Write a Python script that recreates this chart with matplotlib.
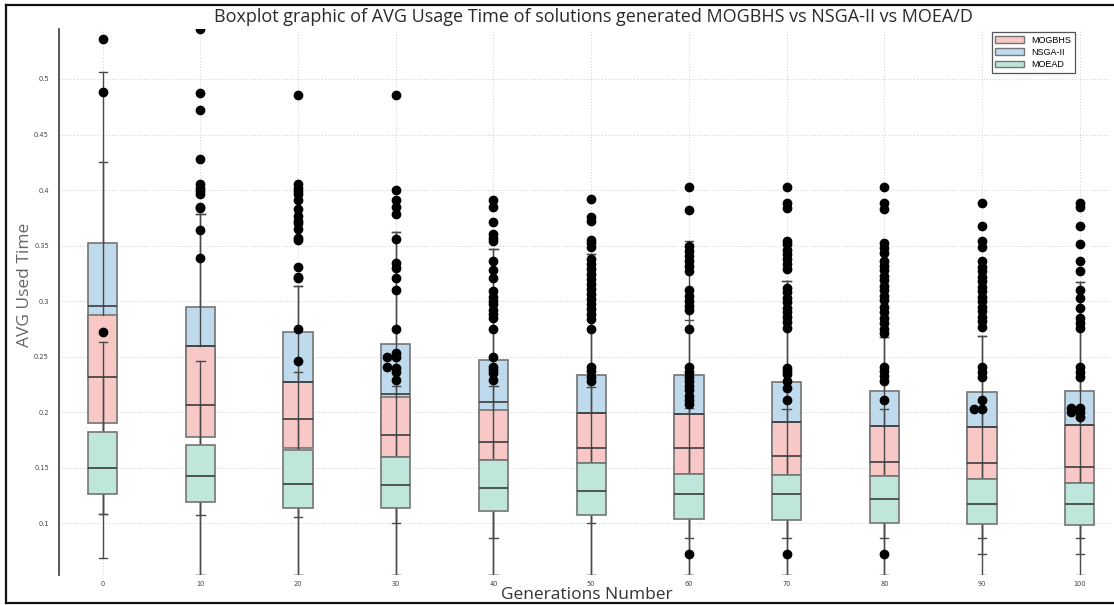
import numpy as np
import matplotlib.pyplot as plt
from matplotlib.lines import Line2D

# Data #######################################################################
gens = [0, 10, 20, 30, 40, 50, 60, 70, 80, 90, 100]

# NSGA-II (blue) - lower quartile is hidden under the MOGBHS box
nsga_q1 = [0.232, 0.2063, 0.194, 0.1798, 0.1735, 0.1675, 0.1675, 0.1606, 0.1555, 0.154, 0.151]
nsga_med = [0.296, 0.26, 0.2276, 0.2162, 0.209, 0.1995, 0.1985, 0.1915, 0.1877, 0.1865, 0.1883]
nsga_q3 = [0.352, 0.2946, 0.2726, 0.2618, 0.2471, 0.2333, 0.2336, 0.227, 0.2195, 0.2183, 0.2195]
nsga_lo = [0.108, 0.0534, 0.0534, 0.0534, 0.0534, 0.0534, 0.0534, 0.0534, 0.0534, 0.0534, 0.0534]
nsga_hi = [0.506, 0.3784, 0.3132, 0.3618, 0.3468, 0.342, 0.3537, 0.3177, 0.2676, 0.2687, 0.3168]

# MOGBHS (pink)
mogbhs_q1 = [0.190, 0.178, 0.1675, 0.1594, 0.157, 0.154, 0.1444, 0.1435, 0.1429, 0.1399, 0.1366]
mogbhs_med = [0.232, 0.2063, 0.194, 0.1798, 0.1735, 0.1675, 0.1675, 0.1606, 0.1555, 0.154, 0.151]
mogbhs_q3 = [0.2874, 0.26, 0.2276, 0.2141, 0.202, 0.1991, 0.1982, 0.1915, 0.1877, 0.1865, 0.1883]
mogbhs_lo = [0.108, 0.0534, 0.0534, 0.0534, 0.0534, 0.0534, 0.0534, 0.0534, 0.0534, 0.0721, 0.0721]
mogbhs_hi = [0.425, 0.3784, 0.3132, 0.3618, 0.3468, 0.342, 0.2832, 0.3177, 0.2676, 0.2687, 0.3168]

# MOEAD (green)
moead_q1 = [0.126, 0.1189, 0.114, 0.114, 0.1111, 0.1075, 0.1039, 0.103, 0.1006, 0.0991, 0.0985]
moead_med = [0.150, 0.1426, 0.135, 0.1345, 0.1315, 0.1288, 0.1261, 0.1261, 0.1219, 0.1171, 0.1171]
moead_q3 = [0.182, 0.170, 0.1658, 0.1594, 0.157, 0.154, 0.1444, 0.1435, 0.1429, 0.1399, 0.1366]
moead_lo = [0.069, 0.1078, 0.106, 0.1005, 0.087, 0.1005, 0.087, 0.087, 0.087, 0.087, 0.087]
moead_hi = [0.263, 0.2465, 0.2366, 0.2237, 0.2237, 0.2231, 0.2036, 0.2027, 0.203, 0.2027, 0.1961]

# outliers (black dots)
nsga_fliers = [
    [0.536],
    [0.545, 0.487, 0.472, 0.428, 0.405, 0.402, 0.399, 0.396, 0.385, 0.384, 0.364, 0.339],
    [0.486, 0.405, 0.402, 0.399, 0.396, 0.391, 0.383, 0.377, 0.372, 0.370, 0.365, 0.357,
     0.355, 0.331, 0.322, 0.321],
    [0.486, 0.400, 0.391, 0.385, 0.378],
    [0.391, 0.385, 0.371, 0.360, 0.357, 0.354],
    [0.392, 0.376, 0.372, 0.355, 0.352, 0.349],
    [0.403, 0.382],
    [0.403, 0.388, 0.384, 0.354, 0.351, 0.346, 0.342, 0.338, 0.333, 0.329],
    [0.403, 0.388, 0.383, 0.352, 0.348, 0.343, 0.336, 0.332, 0.328, 0.323, 0.319, 0.314,
     0.310, 0.305, 0.301, 0.295, 0.290, 0.285, 0.280, 0.275, 0.271],
    [0.388, 0.368, 0.354, 0.349, 0.336, 0.331, 0.327, 0.322, 0.318, 0.313, 0.309, 0.304,
     0.300, 0.295, 0.291, 0.286, 0.282, 0.277],
    [0.388, 0.385, 0.368, 0.351, 0.336, 0.327],
]
mogbhs_fliers = [
    [0.488],
    [],
    [],
    [0.356, 0.334, 0.330, 0.321, 0.310],
    [0.336, 0.328, 0.321, 0.309, 0.304, 0.300, 0.297, 0.292, 0.288, 0.285],
    [0.338, 0.333, 0.329, 0.324, 0.320, 0.315, 0.311, 0.306, 0.302, 0.297, 0.293, 0.288, 0.284],
    [0.350, 0.345, 0.341, 0.336, 0.332, 0.327, 0.310, 0.305, 0.300, 0.296, 0.292],
    [],
    [],
    [],
    [0.310, 0.303, 0.294, 0.285, 0.280, 0.276],
]
moead_fliers = [
    [0.272],
    [],
    [0.275, 0.2465],
    [0.275, 0.2537, 0.2501, 0.2396, 0.2366, 0.2291],
    [0.275, 0.250, 0.241, 0.238, 0.235, 0.229],
    [0.275, 0.241, 0.237, 0.232, 0.228],
    [0.275, 0.241, 0.236, 0.232, 0.228, 0.224, 0.220, 0.215, 0.211, 0.207, 0.0721],
    [0.312, 0.308, 0.303, 0.299, 0.294, 0.290, 0.286, 0.281, 0.276, 0.240, 0.237, 0.234,
     0.228, 0.222, 0.211, 0.0721],
    [0.241, 0.237, 0.233, 0.228, 0.211, 0.0721],
    [0.241, 0.236, 0.232, 0.211, 0.203],
    [0.241, 0.236, 0.232, 0.2036, 0.2006, 0.1961],
]
# dots that sit just left of the whisker line
side_gens = [30, 30, 90, 100, 100]
side_vals = [0.2501, 0.2411, 0.2027, 0.2036, 0.2006]

yticks = [0.1, 0.15, 0.2, 0.25, 0.3, 0.35, 0.4, 0.45, 0.5]

colors = {"MOGBHS": "#F8C8C6", "NSGA-II": "#BEDAEC", "MOEAD": "#BFE6DA"}


def make_stats(q1, med, q3, lo, hi, fl):
    return [dict(q1=a, med=b, q3=c, whislo=d, whishi=e, fliers=f)
            for a, b, c, d, e, f in zip(q1, med, q3, lo, hi, fl)]


###############################################################################
W, H = 1114, 605
fig = plt.figure(figsize=[W / 100, H / 100], dpi=100)
ax = fig.add_axes([58.7 / W, 30 / H, (1110 - 58.7) / W, (575 - 29) / H])

line_c = "#4a4a4a"
edge_c = "#747474"


def draw(stats, color, zbox, zline, zmed):
    ax.bxp(stats, positions=gens, widths=3.0, capwidths=0.85, patch_artist=True,
           manage_ticks=False,
           boxprops=dict(facecolor=color, edgecolor=edge_c, linewidth=1.2, zorder=zbox),
           whiskerprops=dict(color=line_c, linewidth=1.0, zorder=zline),
           capprops=dict(color=line_c, linewidth=1.0, zorder=zline),
           medianprops=dict(color="#3c3c3c", linewidth=1.2, zorder=zmed),
           flierprops=dict(marker="o", markerfacecolor="k", markeredgecolor="k",
                           markersize=6, zorder=6))


draw(make_stats(nsga_q1, nsga_med, nsga_q3, nsga_lo, nsga_hi, nsga_fliers),
     colors["NSGA-II"], 2.0, 3.0, 3.2)
draw(make_stats(mogbhs_q1, mogbhs_med, mogbhs_q3, mogbhs_lo, mogbhs_hi, mogbhs_fliers),
     colors["MOGBHS"], 2.1, 3.0, 3.2)
draw(make_stats(moead_q1, moead_med, moead_q3, moead_lo, moead_hi, moead_fliers),
     colors["MOEAD"], 4.0, 3.1, 4.2)
ax.plot(np.array(side_gens) - 0.85, side_vals, "o", color="k", markersize=6, zorder=6)

ax.set_xlim(-4.5, 103.1)
ax.set_ylim(0.0534, 0.545)
ax.set_xticks(gens)
ax.set_xticklabels([str(g) for g in gens])
ax.set_yticks(yticks)
ax.set_yticklabels(["%g" % t for t in yticks])
ax.tick_params(axis="both", length=0, labelsize=4.8, labelcolor="#444444")
ax.tick_params(axis="y", pad=7)
ax.tick_params(axis="x", pad=4)
ax.grid(True, linestyle=(0, (1, 2)), color="#cfcfcf", linewidth=0.7)
ax.set_axisbelow(True)
for s in ["top", "right", "bottom"]:
    ax.spines[s].set_visible(False)
ax.spines["left"].set_color("#3a3a3a")
ax.spines["left"].set_linewidth(1.2)

# legend ######################################################################
handles = [plt.Rectangle((0, 0), 1, 1, facecolor=colors[k], edgecolor=edge_c, linewidth=1)
           for k in ["MOGBHS", "NSGA-II", "MOEAD"]]
leg = fig.legend(handles, ["MOGBHS", "NSGA-II", "MOEAD"], loc="upper right",
                 bbox_to_anchor=(1075 / W, 1 - 32 / H), bbox_transform=fig.transFigure,
                 fancybox=False, framealpha=1, edgecolor="#555555",
                 prop=dict(family="Liberation Sans", size=6.5),
                 handlelength=3.2, handleheight=0.7, labelspacing=0.35,
                 borderpad=0.4, handletextpad=0.8, borderaxespad=0)
leg.get_frame().set_linewidth(0.9)

# texts #######################################################################
fig.text(593 / W, 1 - 17 / H,
         "Boxplot graphic of AVG Usage Time of solutions generated MOGBHS vs NSGA-II vs MOEA/D",
         ha="center", va="center", fontsize=13, family="Open Sans", color="#2a2a2a")
fig.text(587 / W, 1 - 595 / H, "Generations Number", ha="center", va="center",
         fontsize=12.5, family="Open Sans", color="#333333")
fig.text(25 / W, 1 - 285 / H, "AVG Used Time", ha="center", va="center", rotation=90,
         fontsize=12.5, family="Open Sans", color="#666666")

# frame around the screenshot
for xs, ys in [([6, 1116], [5, 5]), ([6, 6], [5, 603]), ([6, 1116], [603, 603])]:
    fig.add_artist(Line2D(np.array(xs) / W, 1 - np.array(ys) / H, color="#111111",
                          linewidth=1.6, transform=fig.transFigure))

plt.savefig("out.png", dpi=100)
